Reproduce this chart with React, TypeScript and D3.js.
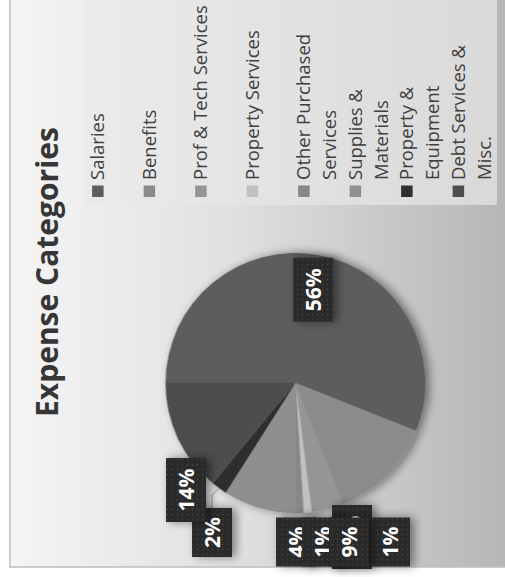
import * as d3 from 'd3';

// expense shares, in legend (series) order
const categories = [
  'Salaries',
  'Benefits',
  'Prof & Tech Services',
  'Property Services',
  'Other Purchased Services',
  'Supplies & Materials',
  'Property & Equipment',
  'Debt Services & Misc.',
];
const shares = [56, 13, 4, 1, 1, 9, 2, 14];

// legend text as wrapped in the reference
const legendLines = [
  ['Salaries'],
  ['Benefits'],
  ['Prof & Tech Services'],
  ['Property Services'],
  ['Other Purchased', 'Services'],
  ['Supplies &', 'Materials'],
  ['Property &', 'Equipment'],
  ['Debt Services &', 'Misc.'],
];

const sliceColors = ['#5d5d5d', '#8b8b8b', '#959595', '#c1c1c1', '#878787', '#8f8f8f', '#2f2f2f', '#4e4e4e'];

// where the data labels sit (unrotated frame); null = inside the slice
const labelSpots: ([number, number] | null)[] = [
  null,
  [40, 352],
  [35, 296],
  [35, 322],
  [35, 390],
  [35, 349],
  [44.5, 212],
  [87, 186],
];
const withLeader = ['Property & Equipment'];

const W = 577; // chart is drawn upright, then turned a quarter to the left
const font = "'Open Sans', sans-serif";

function App() {
  const cx = 194;
  const cy = 295.5;
  const r = 130;

  const pie = d3.pie<number>().sort(null).value((d) => d);
  const arcs = pie(shares);
  const total = d3.sum(shares);
  const fmt = d3.format('.0%');

  const arc = d3.arc<d3.PieArcDatum<number>>().innerRadius(0).outerRadius(r);
  const inside = d3.arc<d3.PieArcDatum<number>>().innerRadius(r * 0.73).outerRadius(r * 0.73);
  const rim = d3.arc<d3.PieArcDatum<number>>().innerRadius(r).outerRadius(r);

  const legendY = d3.scaleBand<string>().domain(categories).range([85, 497]);
  const lineH = legendY.bandwidth() / 2;

  const labels = arcs.map((a, i) => {
    const text = fmt(a.data / total);
    const w = 15 * (text.length - 1) + 34;
    const spot = labelSpots[i];
    const [x, y] = spot ?? inside.centroid(a).map((v, k) => v + (k === 0 ? cx : cy));
    return { a, i, text, w, x, y };
  });

  return (
    <div style={{ position: 'absolute', left: 0, top: 0 }}>
      <svg width={505} height={577} style={{ display: 'block' }}>
        <defs>
          <linearGradient id="bg" gradientUnits="userSpaceOnUse" x1="0" y1="10" x2="0" y2="505">
            <stop offset="0" stopColor="#f5f5f5" />
            <stop offset="0.45" stopColor="#e0e0e0" />
            <stop offset="1" stopColor="#b6b6b6" />
          </linearGradient>
          <linearGradient id="legendBg" gradientUnits="userSpaceOnUse" x1="0" y1="85" x2="0" y2="497">
            <stop offset="0" stopColor="#ebebeb" />
            <stop offset="1" stopColor="#d9d9d9" />
          </linearGradient>
          <pattern id="dots" width="5" height="5" patternUnits="userSpaceOnUse">
            <rect width="5" height="5" fill="#2a2a2a" />
            <circle cx="2.5" cy="2.5" r="0.7" fill="#464646" />
          </pattern>
          <filter id="shadow" x="-30%" y="-30%" width="160%" height="160%">
            <feDropShadow dx="0" dy="4" stdDeviation="5" floodColor="#000" floodOpacity="0.45" />
          </filter>
        </defs>

        <g transform={`translate(0,${W}) rotate(-90)`}>
          <rect x={10} y={10} width={600} height={520} fill="url(#bg)" stroke="#bdbdbd" strokeWidth={1.5} />

          <text x={305} y={58} textAnchor="middle" fontFamily={font} fontWeight={700} fontSize={30} fill="#363636">
            Expense Categories
          </text>

          <g transform={`translate(${cx},${cy})`} filter="url(#shadow)">
            {arcs.map((a, i) => (
              <path key={categories[i]} d={arc(a) ?? ''} fill={sliceColors[i]} />
            ))}
          </g>

          {labels
            .filter((l) => withLeader.includes(categories[l.i]))
            .map((l) => {
              const [px, py] = rim.centroid(l.a);
              const right = l.x + l.w / 2;
              const path = d3.line()([
                [right, l.y],
                [right + 13, l.y],
                [px + cx, py + cy],
              ]);
              return <path key={'lead' + l.i} d={path ?? ''} fill="none" stroke="#9a9a9a" strokeWidth={1} />;
            })}

          {labels.map((l) => (
            <g key={'lab' + l.i}>
              <rect
                x={l.x - l.w / 2}
                y={l.y - 20}
                width={l.w}
                height={40}
                fill="url(#dots)"
                filter="url(#shadow)"
              />
              <text
                x={l.x}
                y={l.y}
                dy="0.36em"
                textAnchor="middle"
                fontFamily={font}
                fontWeight={700}
                fontSize={21}
                fill="#ffffff"
              >
                {l.text}
              </text>
            </g>
          ))}

          <rect x={372} y={85} width={215} height={412} fill="url(#legendBg)" />
          {categories.map((c, i) => {
            const top = legendY(c) ?? 0;
            const mid = top + lineH / 2;
            return (
              <g key={'leg' + c}>
                <rect x={380} y={mid - 5.75} width={11.5} height={11.5} fill={sliceColors[i]} />
                {legendLines[i].map((line, k) => (
                  <text
                    key={line}
                    x={397}
                    y={mid + 6.5 + k * lineH}
                    fontFamily={font}
                    fontSize={18.5}
                    fill="#404040"
                  >
                    {line}
                  </text>
                ))}
              </g>
            );
          })}
        </g>
      </svg>
    </div>
  );
}

export default App;
